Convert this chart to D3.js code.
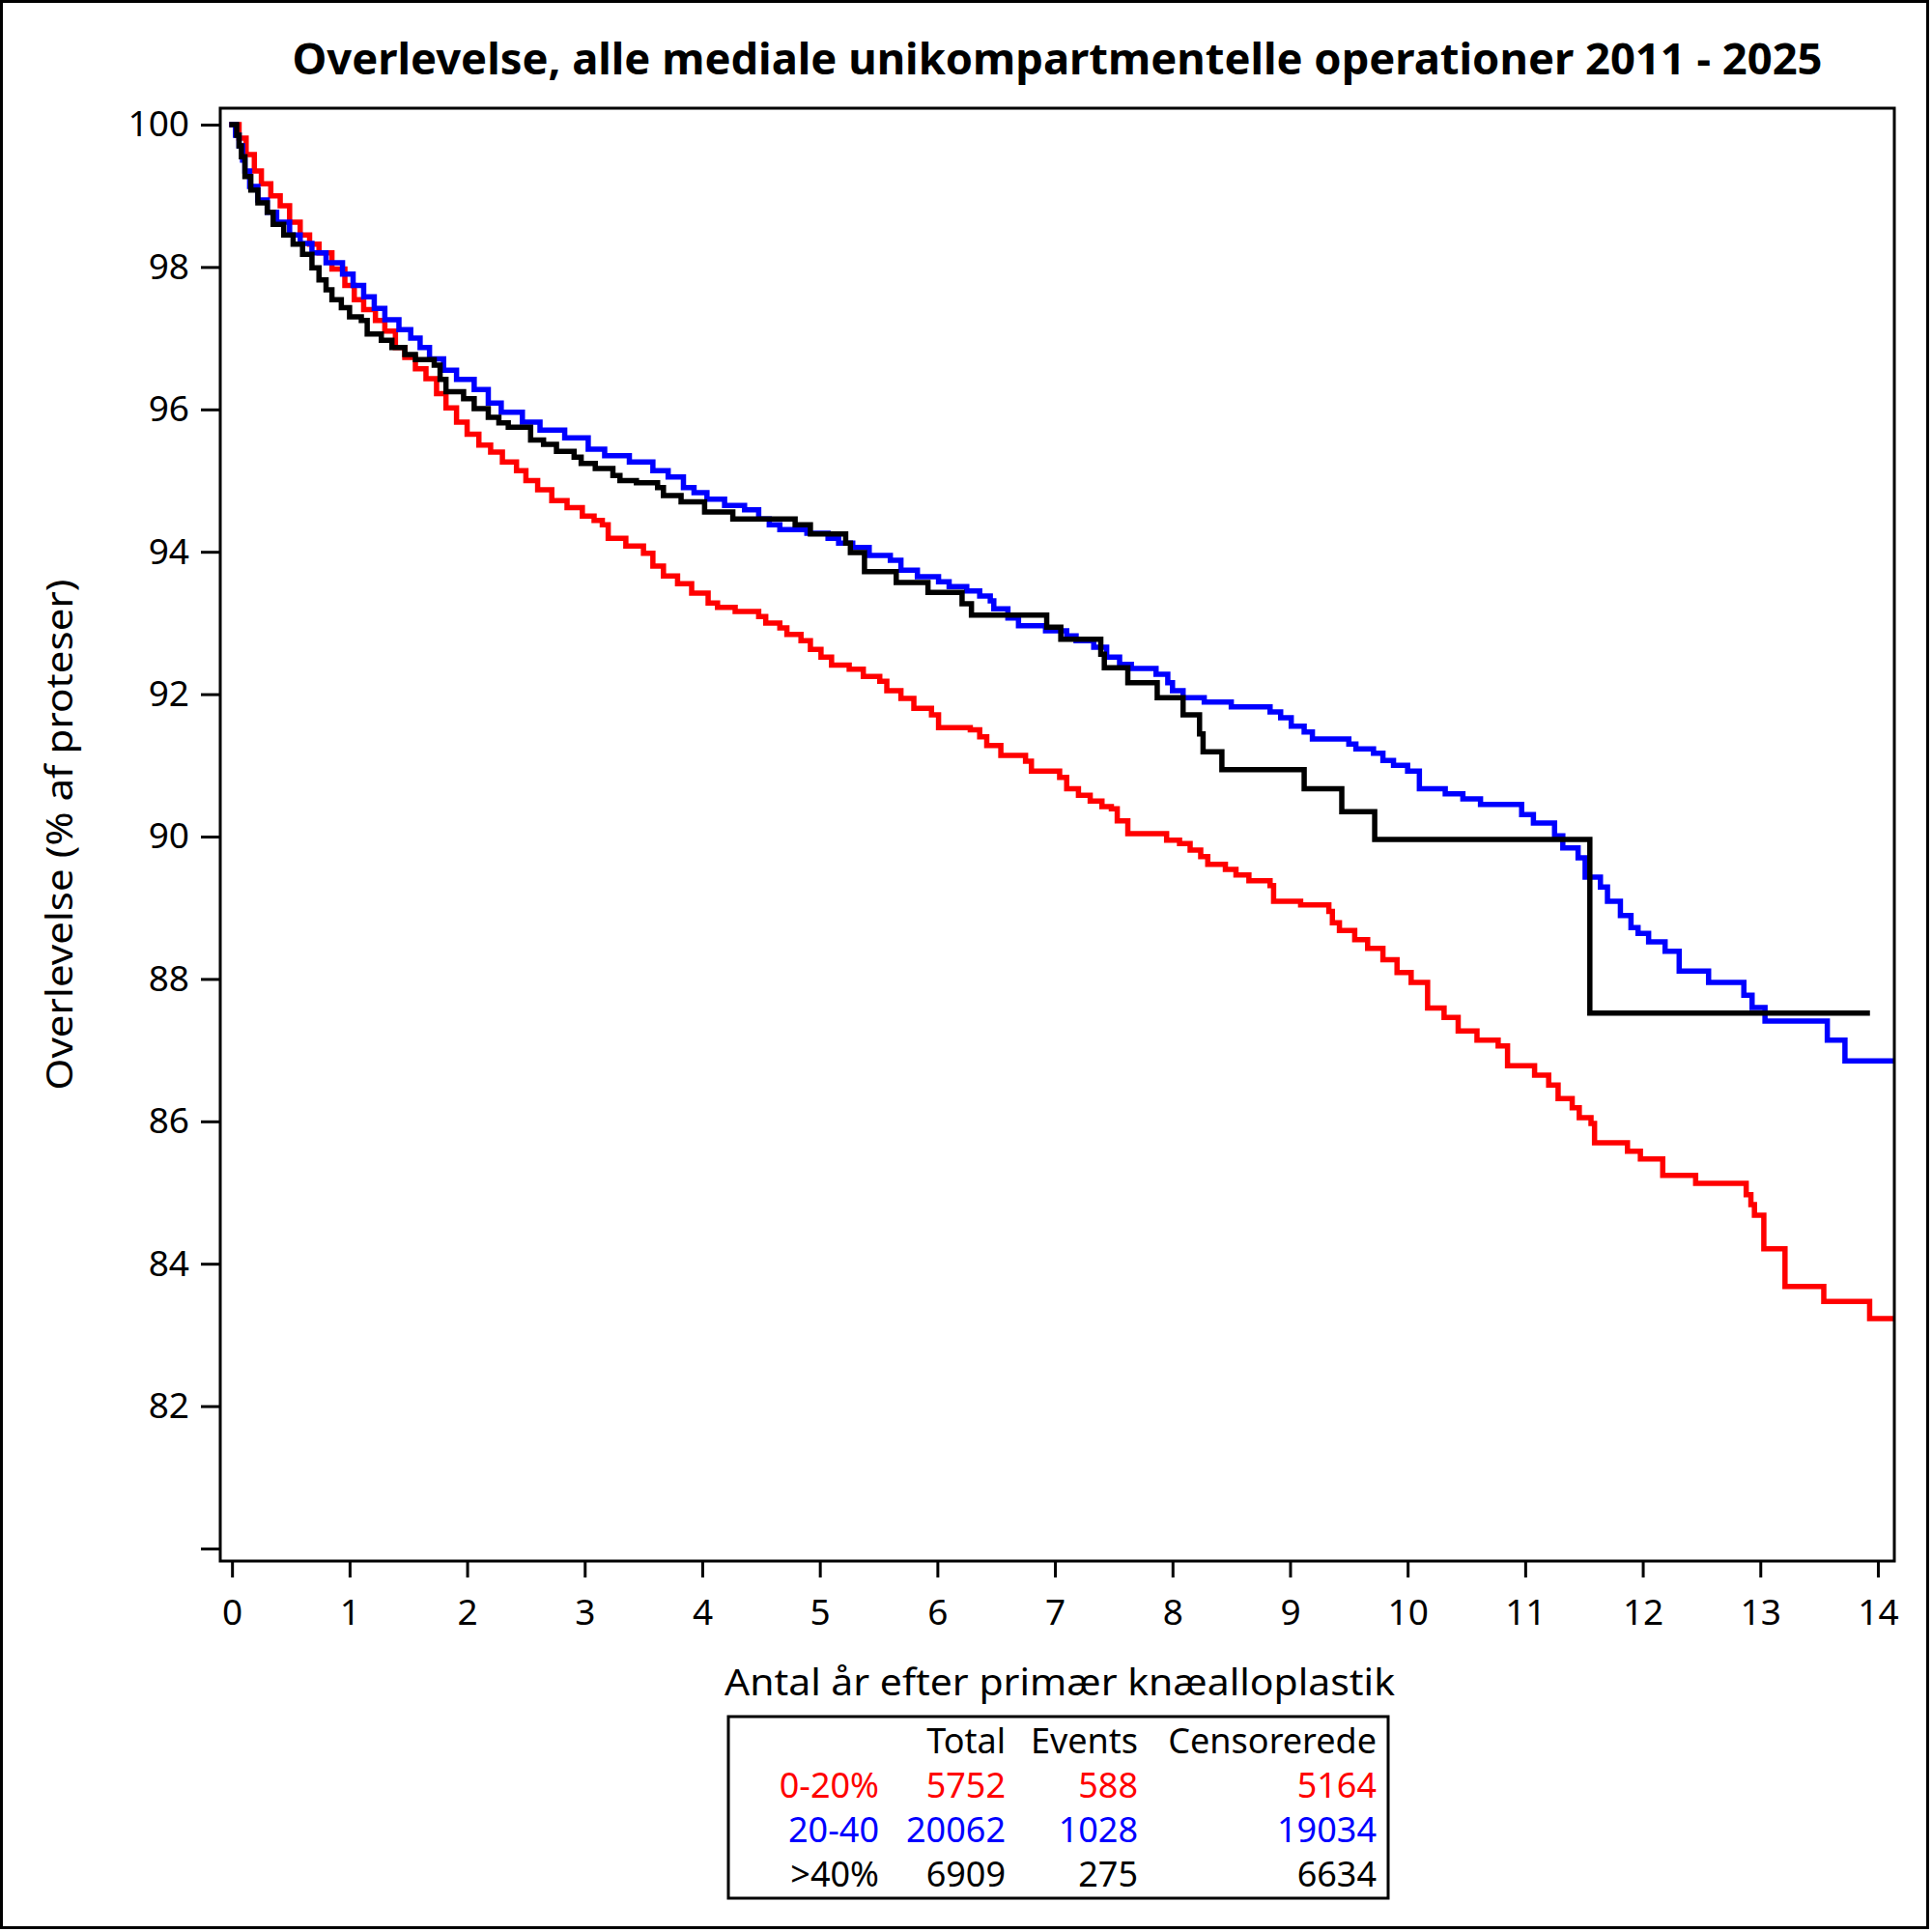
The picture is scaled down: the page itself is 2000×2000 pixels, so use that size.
<!DOCTYPE html>
<html>
<head>
<meta charset="utf-8">
<script src="https://cdn.jsdelivr.net/npm/d3@7"></script>
<style>
  html, body { margin: 0; padding: 0; background: #fff; }
  svg { display: block; }
  text { font-family: "Noto Sans", "DejaVu Sans", sans-serif; }
</style>
</head>
<body>
<svg id="chart" width="2000" height="2000"></svg>
<script>
// ---------------- DATA ----------------
const title = "Overlevelse, alle mediale unikompartmentelle operationer 2011 - 2025";
const xTitle = "Antal år efter primær knæalloplastik";
const yTitle = "Overlevelse (% af proteser)";

const xTicks = [0,1,2,3,4,5,6,7,8,9,10,11,12,13,14];
const yTicks = [80,82,84,86,88,90,92,94,96,98,100];

const groups = ["0-20%", "20-40", ">40%"];
const groupColors = ["#ff0000", "#0000ff", "#000000"];
const totals = [5752, 20062, 6909];
const events = [588, 1028, 275];
const censored = [5164, 19034, 6634];
const tableHeader = ["Total", "Events", "Censorerede"];

// [years, survival %]
const red = [[0,100],[0.06,99.81],[0.12,99.58],[0.19,99.35],[0.25,99.17],[0.33,99.0],[0.41,98.86],[0.49,98.63],[0.58,98.45],[0.66,98.32],[0.74,98.2],[0.85,97.97],[0.96,97.74],[1.04,97.54],[1.12,97.4],[1.22,97.25],[1.30,97.1],[1.39,96.87],[1.47,96.73],[1.56,96.57],[1.65,96.43],[1.74,96.22],[1.82,96.02],[1.91,95.82],[2.0,95.65],[2.1,95.5],[2.2,95.4],[2.3,95.26],[2.42,95.14],[2.5,95.0],[2.6,94.87],[2.72,94.72],[2.85,94.62],[2.98,94.5],[3.08,94.44],[3.15,94.38],[3.2,94.19],[3.35,94.08],[3.5,93.98],[3.58,93.8],[3.67,93.66],[3.79,93.55],[3.91,93.42],[4.05,93.28],[4.13,93.22],[4.28,93.16],[4.48,93.09],[4.54,93.0],[4.66,92.93],[4.72,92.84],[4.84,92.75],[4.92,92.63],[5.01,92.52],[5.1,92.41],[5.25,92.35],[5.37,92.25],[5.51,92.18],[5.57,92.05],[5.69,91.94],[5.8,91.8],[5.95,91.71],[6.01,91.53],[6.28,91.5],[6.36,91.4],[6.42,91.28],[6.54,91.14],[6.75,91.06],[6.8,90.92],[7.04,90.83],[7.1,90.67],[7.2,90.58],[7.3,90.5],[7.4,90.42],[7.48,90.39],[7.53,90.22],[7.62,90.04],[7.95,89.95],[8.06,89.9],[8.15,89.81],[8.24,89.72],[8.3,89.61],[8.45,89.54],[8.54,89.46],[8.65,89.38],[8.83,89.31],[8.86,89.09],[9.09,89.04],[9.33,88.95],[9.36,88.79],[9.42,88.68],[9.55,88.55],[9.66,88.43],[9.79,88.27],[9.91,88.09],[10.03,87.95],[10.17,87.59],[10.31,87.46],[10.43,87.27],[10.59,87.14],[10.77,87.06],[10.85,86.78],[11.08,86.65],[11.2,86.51],[11.28,86.32],[11.4,86.19],[11.46,86.05],[11.56,85.97],[11.59,85.7],[11.87,85.58],[11.98,85.47],[12.17,85.24],[12.45,85.13],[12.88,84.97],[12.92,84.83],[12.95,84.68],[13.03,84.21],[13.21,83.68],[13.54,83.47],[13.93,83.23],[14.14,83.23]];

const blue = [[0,100],[0.03,99.85],[0.06,99.7],[0.09,99.5],[0.11,99.35],[0.15,99.13],[0.22,98.94],[0.3,98.77],[0.38,98.63],[0.49,98.45],[0.58,98.33],[0.68,98.2],[0.8,98.06],[0.94,97.9],[1.03,97.74],[1.12,97.58],[1.21,97.42],[1.3,97.26],[1.42,97.12],[1.52,97.0],[1.6,96.87],[1.68,96.71],[1.8,96.55],[1.91,96.42],[2.06,96.28],[2.18,96.09],[2.29,95.96],[2.47,95.82],[2.62,95.71],[2.83,95.6],[3.03,95.44],[3.17,95.35],[3.38,95.26],[3.58,95.14],[3.71,95.05],[3.84,94.9],[3.93,94.83],[4.04,94.74],[4.19,94.65],[4.36,94.59],[4.48,94.46],[4.57,94.38],[4.66,94.31],[4.89,94.26],[5.07,94.19],[5.16,94.12],[5.28,94.06],[5.42,93.95],[5.6,93.88],[5.69,93.74],[5.83,93.65],[6.01,93.58],[6.1,93.51],[6.25,93.45],[6.36,93.38],[6.45,93.31],[6.48,93.2],[6.6,93.07],[6.69,92.96],[6.92,92.89],[7.1,92.82],[7.18,92.75],[7.33,92.66],[7.44,92.52],[7.55,92.42],[7.65,92.36],[7.86,92.28],[7.96,92.16],[8.0,92.05],[8.09,91.95],[8.27,91.89],[8.5,91.82],[8.83,91.75],[8.92,91.67],[9.01,91.55],[9.12,91.47],[9.19,91.37],[9.5,91.3],[9.56,91.23],[9.71,91.17],[9.79,91.07],[9.88,91.0],[10.0,90.92],[10.1,90.67],[10.32,90.6],[10.47,90.53],[10.62,90.45],[10.97,90.31],[11.07,90.19],[11.25,90.01],[11.32,89.84],[11.45,89.7],[11.51,89.43],[11.64,89.29],[11.7,89.09],[11.81,88.89],[11.9,88.72],[11.96,88.64],[12.05,88.52],[12.19,88.39],[12.31,88.11],[12.56,87.95],[12.86,87.77],[12.93,87.6],[13.04,87.41],[13.57,87.14],[13.72,86.85],[14.14,86.85]];

const black = [[0,100],[0.02,100],[0.04,99.85],[0.06,99.7],[0.08,99.55],[0.11,99.27],[0.16,99.08],[0.22,98.9],[0.3,98.77],[0.35,98.6],[0.44,98.45],[0.52,98.32],[0.6,98.18],[0.68,97.99],[0.74,97.82],[0.8,97.68],[0.85,97.54],[0.93,97.43],[1.0,97.3],[1.1,97.25],[1.15,97.06],[1.27,96.97],[1.36,96.87],[1.47,96.77],[1.56,96.7],[1.72,96.62],[1.77,96.42],[1.82,96.25],[1.97,96.15],[2.06,96.01],[2.18,95.89],[2.27,95.81],[2.35,95.75],[2.54,95.57],[2.65,95.51],[2.76,95.41],[2.91,95.33],[2.97,95.24],[3.09,95.17],[3.24,95.07],[3.3,95.0],[3.44,94.97],[3.62,94.9],[3.67,94.79],[3.82,94.7],[4.02,94.56],[4.26,94.46],[4.79,94.38],[4.92,94.25],[5.22,94.12],[5.26,93.99],[5.38,93.72],[5.65,93.57],[5.92,93.43],[6.21,93.27],[6.29,93.11],[6.93,92.94],[7.05,92.77],[7.39,92.56],[7.42,92.37],[7.62,92.16],[7.87,91.95],[8.09,91.71],[8.23,91.44],[8.26,91.19],[8.42,90.94],[9.12,90.67],[9.44,90.35],[9.72,89.96],[11.55,87.52],[13.91,87.52]];

const seriesList = [red, blue, black];

// ---------------- LAYOUT ----------------
const svg = d3.select("#chart");
const plot = {left: 228, right: 1961, top: 112, bottom: 1616};

const x = d3.scaleLinear().domain([-0.1, 14.14]).range([plot.left, plot.right]);
const y = d3.scaleLinear().domain([80, 100]).range([1603, 129]);

// outer frame
svg.append("rect").attr("x", 1.5).attr("y", 1.5).attr("width", 1994).attr("height", 1994)
  .attr("fill", "#fff").attr("stroke", "#000").attr("stroke-width", 3);

// title
svg.append("text").attr("x", (plot.left + plot.right) / 2).attr("y", 77)
  .attr("text-anchor", "middle").attr("font-size", 44).attr("font-weight", "bold")
  .attr("textLength", 1584).attr("lengthAdjust", "spacingAndGlyphs")
  .text(title);

// clip
svg.append("clipPath").attr("id", "clip").append("rect")
  .attr("x", plot.left).attr("y", plot.top)
  .attr("width", plot.right - plot.left).attr("height", plot.bottom - plot.top);

// curves
const line = d3.line().x(d => x(d[0])).y(d => y(d[1])).curve(d3.curveStepAfter);
const gLines = svg.append("g").attr("clip-path", "url(#clip)");
seriesList.forEach((s, i) => {
  gLines.append("path").datum(s).attr("d", line)
    .attr("fill", "none").attr("stroke", groupColors[i]).attr("stroke-width", 5.5)
    .attr("stroke-linejoin", "miter").attr("stroke-linecap", "square");
});

// plot frame
svg.append("rect").attr("x", plot.left).attr("y", plot.top)
  .attr("width", plot.right - plot.left).attr("height", plot.bottom - plot.top)
  .attr("fill", "none").attr("stroke", "#000").attr("stroke-width", 3);

// y axis
const yAxis = svg.append("g").attr("transform", `translate(${plot.left},0)`)
  .call(d3.axisLeft(y).tickValues(yTicks).tickSize(20).tickPadding(12)
    .tickFormat(d => d === 80 ? "" : d));
yAxis.select(".domain").remove();
yAxis.selectAll(".tick line").attr("stroke", "#000").attr("stroke-width", 3);
yAxis.selectAll(".tick text").attr("font-size", 37).attr("fill", "#000")
  .attr("font-family", '"Noto Sans", sans-serif');

// x axis
const xAxis = svg.append("g").attr("transform", `translate(0,${plot.bottom})`)
  .call(d3.axisBottom(x).tickValues(xTicks).tickSize(17).tickPadding(23).tickFormat(d3.format("d")));
xAxis.select(".domain").remove();
xAxis.selectAll(".tick line").attr("stroke", "#000").attr("stroke-width", 3);
xAxis.selectAll(".tick text").attr("font-size", 37).attr("fill", "#000")
  .attr("font-family", '"Noto Sans", sans-serif');

// axis titles
svg.append("text").attr("x", 1097).attr("y", 1755).attr("text-anchor", "middle")
  .attr("font-size", 39).attr("textLength", 694).attr("lengthAdjust", "spacingAndGlyphs")
  .text(xTitle);
svg.append("text").attr("transform", "translate(75,864) rotate(-90)").attr("text-anchor", "middle")
  .attr("font-size", 39).attr("textLength", 529).attr("lengthAdjust", "spacingAndGlyphs")
  .text(yTitle);

// stats table
svg.append("rect").attr("x", 754).attr("y", 1777).attr("width", 683).attr("height", 188)
  .attr("fill", "none").attr("stroke", "#000").attr("stroke-width", 3);
const colRight = [910, 1041, 1178, 1425];
const rowBase = [1815, 1861, 1907, 1953];
const tbl = svg.append("g").attr("font-size", 36).attr("text-anchor", "end");
tableHeader.forEach((h, j) => {
  tbl.append("text").attr("x", colRight[j + 1]).attr("y", rowBase[0]).attr("fill", "#000").text(h);
});
groups.forEach((g, i) => {
  const vals = [g, totals[i], events[i], censored[i]];
  vals.forEach((v, j) => {
    tbl.append("text").attr("x", colRight[j]).attr("y", rowBase[i + 1])
      .attr("fill", groupColors[i]).text(v);
  });
});
</script>
</body>
</html>
